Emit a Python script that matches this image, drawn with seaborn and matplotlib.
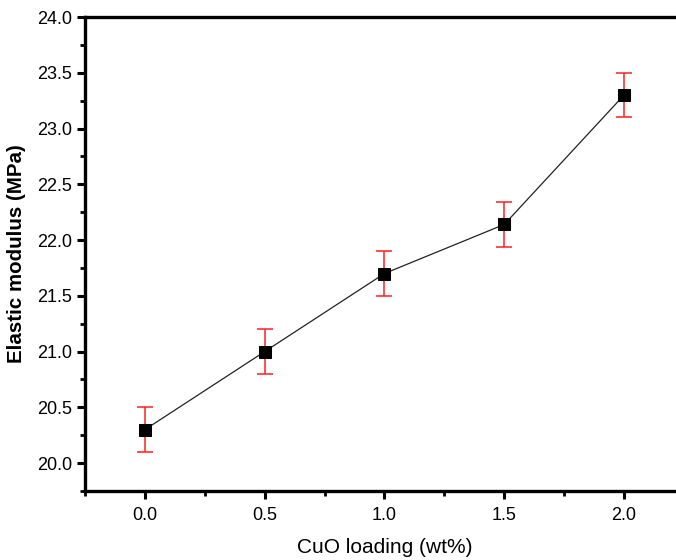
import numpy as np
import pandas as pd
import matplotlib
matplotlib.use("Agg")
import matplotlib.pyplot as plt
import seaborn as sns
from matplotlib.ticker import MultipleLocator

# data
cuo_loading = [0.0, 0.5, 1.0, 1.5, 2.0]
elastic_modulus = [20.3, 21.0, 21.7, 22.14, 23.3]
modulus_err = [0.2, 0.2, 0.2, 0.2, 0.2]

df = pd.DataFrame({"loading": cuo_loading, "modulus": elastic_modulus, "err": modulus_err})

sns.set_theme(style="ticks")
plt.rcParams['font.family'] = ['Liberation Sans', 'DejaVu Sans']
plt.rcParams['text.color'] = 'black'
plt.rcParams['axes.labelcolor'] = 'black'

fig = plt.figure(figsize=(6.76, 5.60), dpi=100)
ax = fig.add_axes([0.1257, 0.1232, 0.886, 0.8464])

# error bars first so the markers sit on top
ax.errorbar(df["loading"], df["modulus"], yerr=df["err"], fmt='none',
            ecolor='#ff2020', elinewidth=1.1, capsize=6, capthick=1.1, zorder=2)
sns.lineplot(data=df, x="loading", y="modulus", ax=ax, color='#222222',
             linewidth=0.9, marker='s', markersize=8.5, markerfacecolor='black',
             markeredgecolor='black', zorder=3)

ax.set_xlim(-0.25, 2.25)
ax.set_ylim(19.75, 24.0)
ax.xaxis.set_minor_locator(MultipleLocator(0.25))
ax.yaxis.set_minor_locator(MultipleLocator(0.25))
ax.set_yticks(np.arange(20.0, 24.01, 0.5))
ax.set_xticks(cuo_loading)

for s in ax.spines.values():
    s.set_linewidth(2.4)
    s.set_color('black')
ax.tick_params(which='major', direction='out', length=5.5, width=2.2, labelsize=13,
               colors='black', labelcolor='black')
ax.tick_params(axis='x', which='major', pad=6)
ax.tick_params(axis='y', which='major', pad=3.5)
ax.tick_params(which='minor', direction='out', length=3.5, width=2.0, colors='black')

ax.set_xlabel("CuO loading (wt%)", fontsize=15, labelpad=10)
ax.set_ylabel("Elastic modulus (MPa)", fontsize=14.8, fontweight='bold', labelpad=8)

fig.savefig("out.png", dpi=100)
